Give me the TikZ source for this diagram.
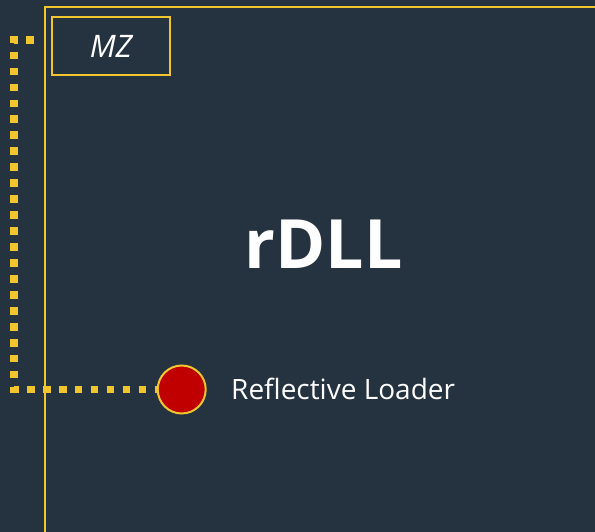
\documentclass[tikz,border=0pt]{standalone}
\usepackage{fontspec}
\setmainfont{Open Sans}
\usepackage{tikz}
\usetikzlibrary{calc}

\definecolor{slate}{HTML}{253240}
\definecolor{gold}{HTML}{F0C62C}
\definecolor{darkred}{HTML}{C00000}

\begin{document}
\begin{tikzpicture}[x=1pt, y=-1pt, font=\color{white}]
			\fill[slate](0, 0)rectangle(595, 532);
			\useasboundingbox(0, 0)rectangle(595, 532);

			% outer region
			\draw[gold, line width=2pt](44.5, 600)--(44.5, 7.5)--(640, 7.5);
			\coordinate (link_start) at (34, 40);
			\coordinate (loader_center) at (181.7, 389.5);

			\node[draw=gold, line width=1.5pt, minimum width=118pt, minimum height=58pt, inner sep=0pt] (mz_box) at (111, 46) {\fontsize{31}{36}\selectfont\itshape MZ};

			\node[anchor=base] (rdll_label) at (323.5, 269) {\fontsize{68}{80}\selectfont\bfseries rDLL};

			\draw[gold, line width=7.7pt, dash pattern=on 7.7pt off 8.25pt](link_start)-|(13.8, 300)|-(loader_center);

			\node[circle, draw=gold, fill=darkred, line width=2pt, minimum size=48pt, inner sep=0pt] (loader_point) at (loader_center) {};
			\node[anchor=base west, inner sep=0pt] (loader_label) at (231, 399) {\fontsize{28}{34}\selectfont Reflective Loader};
		\end{tikzpicture}
\end{document}
